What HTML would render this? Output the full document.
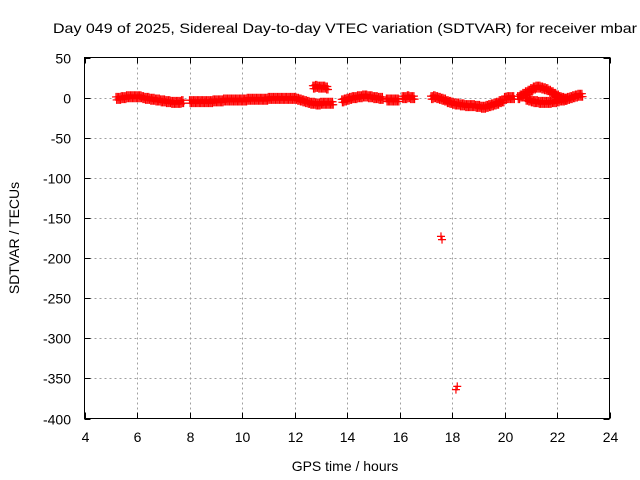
<!DOCTYPE html>
<html><head><meta charset="utf-8"><style>
body{margin:0;background:#fff;}
svg{display:block;font-family:"Liberation Sans",sans-serif;}
</style></head><body>
<svg id="chart" width="640" height="480">
<text x="345" y="33" text-anchor="middle" font-size="14" textLength="584" lengthAdjust="spacingAndGlyphs">Day 049 of 2025, Sidereal Day-to-day VTEC variation (SDTVAR) for receiver mbar</text>
<text transform="translate(19,238) rotate(-90)" text-anchor="middle" font-size="14">SDTVAR / TECUs</text>
<text x="345" y="471" text-anchor="middle" font-size="14">GPS time / hours</text>
<g id="grid"></g><g id="ticks"></g><g id="marks"></g>
<rect x="84.5" y="57.5" width="525" height="361" fill="none" stroke="#000"/>
</svg>
<script>
const xTicks=[4,6,8,10,12,14,16,18,20,22,24];
const yTicks=[50,0,-50,-100,-150,-200,-250,-300,-350,-400];
const segStarts=[5.2,8.0,12.1,12.7,13.8,15.5,16.1,17.2,20.0,20.5,20.8];
const segValues=[
[-1,-1,0,0,1,1,1,1,1,1,0,-1,-1,-2,-2,-3,-3,-4,-4,-5,-5,-6,-6,-6,-6,-5],
[-5,-5,-5,-5,-5,-5,-5,-5,-5,-4,-4,-4,-4,-3,-3,-3,-3,-3,-3,-3,-3,-3,-2,-2,-2,-2,-2,-2,-2,-2,-1,-1,-1,-1,-1,-1,-1,-1,-1,-1,-1],
[-2,-3,-4,-5,-6,-7,-7,-8,-8,-7,-7,-7,-7,-7],
[13,14,13,13,13,12],
[-4,-3,-2,-1,0,0,1,1,2,2,1,1,0,0,-1,-1],
[-3,-3,-3,-3,-3],
[0,0,1,0,0],
[0,1,0,-1,-2,-3,-5,-6,-7,-8,-8,-9,-9,-10,-10,-10,-10,-11,-11,-12,-12,-11,-10,-9,-8,-7,-5,-4],
[-1,0,0,0],
[0,2,4,6,8,10,12,13,13,12,11,10,8,6,4,2,0,-1,-2],
[-2,-3,-4,-5,-5,-6,-6,-6,-6,-6,-5,-5,-4,-3,-3,-2,-1,0,1,2,3,3]
];
const outlierHours=[17.58,17.62,18.2,18.15];
const outlierValues=[-173,-177,-360,-364];
const X0=84.5,X1=609.5,Y0=57.5,Y1=418.5;
const xs=h=>X0+(h-4)/(24-4)*(X1-X0);
const ys=v=>Y0+(50-v)/(50+400)*(Y1-Y0);
const NS="http://www.w3.org/2000/svg";
function mk(t,a,p){const e=document.createElementNS(NS,t);for(const k in a)e.setAttribute(k,a[k]);p.appendChild(e);return e;}
const grid=document.getElementById('grid'),ticks=document.getElementById('ticks'),marks=document.getElementById('marks');
xTicks.forEach(t=>{const x=Math.round(xs(t))+0.5;
 if(t>4&&t<24){const l=mk('line',{x1:x,x2:x,y1:Y0,y2:Y1,stroke:'#a0a0a0','stroke-dasharray':'2,3'},grid);
 
 }
 mk('line',{x1:x,x2:x,y1:Y1,y2:Y1-6,stroke:'#000'},ticks);mk('line',{x1:x,x2:x,y1:Y0,y2:Y0+6,stroke:'#000'},ticks);
 const tx=mk('text',{x:x,y:442,'text-anchor':'middle','font-size':'14'},ticks);tx.textContent=t;
 
 });
yTicks.forEach(t=>{const y=Math.round(ys(t))+0.5;
 if(t<50&&t>-400){const l=mk('line',{x1:X0,x2:X1,y1:y,y2:y,stroke:'#a0a0a0','stroke-dasharray':'2,3'},grid);
 
 }
 mk('line',{x1:X0,x2:X0+6,y1:y,y2:y,stroke:'#000'},ticks);mk('line',{x1:X1,x2:X1-6,y1:y,y2:y,stroke:'#000'},ticks);
 const tx=mk('text',{x:71,y:y+5,'text-anchor':'end','font-size':'14'},ticks);tx.textContent=t;
 
 });
function plus(x,y){const p=mk('path',{d:`M${x-4},${y}H${x+4}M${x},${y-4}V${y+4}`,stroke:'#f00','stroke-width':'1.2',fill:'none'},marks);
 
 }
segStarts.forEach((s,i)=>{segValues[i].forEach((v,j)=>{const h=s+j*0.1;
 for(let k=0;k<4;k++){const hx=h+k*0.025;plus(xs(hx),ys(v)+(k%2?1.5:-1.5));}});});
outlierHours.forEach((h,i)=>plus(xs(h),ys(outlierValues[i])));
</script>
</body></html>
